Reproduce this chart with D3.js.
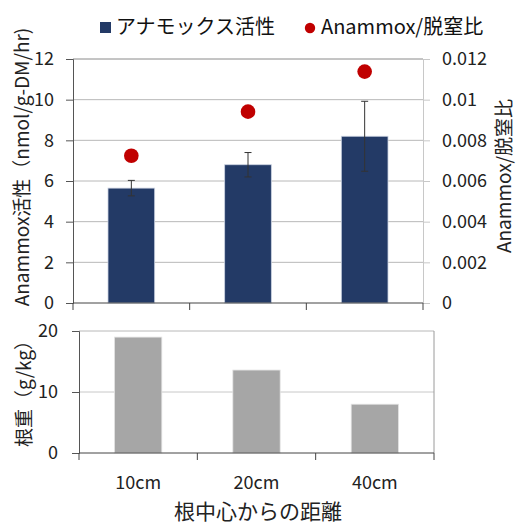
<!DOCTYPE html>
<html>
<head>
<meta charset="utf-8">
<script src="https://cdn.jsdelivr.net/npm/d3@7"></script>
<style>
  html, body { margin: 0; padding: 0; background: #fff; }
  svg { display: block; font-family: "Noto Sans CJK JP", "Noto Sans", sans-serif; }
</style>
</head>
<body>
<svg id="chart" width="521" height="524"></svg>
<script>
// Distance from the root centre
const categories = ["10cm", "20cm", "40cm"];
// Anammox activity (nmol/g-DM/hr) with standard error
const activity = [5.65, 6.8, 8.2];
const activityErr = [0.38, 0.6, 1.72];
// Anammox / denitrification ratio
const ratio = [0.00724, 0.00941, 0.01138];
// Root weight (g/kg)
const rootWeight = [19.0, 13.6, 8.0];

const leftTicks = [0, 2, 4, 6, 8, 10, 12];
const rightTicks = [0, 0.002, 0.004, 0.006, 0.008, 0.01, 0.012];
const bottomTicks = [0, 10, 20];

const svg = d3.select("#chart");
const navy = "#233a66";
const red = "#c00000";
const gray = "#a6a6a6";
const ink = "#222";
const tickFont = 18;

// ---------- upper panel ----------
const upper = { left: 73, right: 423, top: 59, bottom: 303 };
const x1 = d3.scaleBand().domain(categories).range([upper.left, upper.right]).paddingInner(0.6).paddingOuter(0.3);
const xStep1 = d3.scaleBand().domain(categories).range([upper.left, upper.right]);
const yL = d3.scaleLinear().domain([0, 12]).range([upper.bottom, upper.top]);
const yR = d3.scaleLinear().domain([0, 0.012]).range([upper.bottom, upper.top]);

// gridlines
svg.append("g").selectAll("line").data(leftTicks.filter(d => d > 0)).join("line")
  .attr("x1", upper.left).attr("x2", upper.right)
  .attr("y1", d => yL(d)).attr("y2", d => yL(d))
  .attr("stroke", d => d === 12 ? "#8a8a8a" : "#b8b8b8").attr("stroke-width", 1);

// right axis (light)
const rightAxis = svg.append("g").attr("transform", `translate(${upper.right},0)`)
  .call(d3.axisRight(yR).tickValues(rightTicks).tickSize(7).tickPadding(12)
    .tickFormat(d => d === 0 ? "0" : String(+d.toFixed(3))));
rightAxis.select(".domain").attr("stroke", "#c8c8c8");
rightAxis.selectAll(".tick line").attr("stroke", "#c8c8c8");
rightAxis.selectAll("text").attr("font-size", tickFont).attr("fill", ink)
  .attr("font-family", "'Noto Sans CJK JP', sans-serif");

// bars
svg.append("g").selectAll("rect").data(categories).join("rect")
  .attr("x", d => x1(d)).attr("width", x1.bandwidth())
  .attr("y", (d, i) => yL(activity[i])).attr("height", (d, i) => yL(0) - yL(activity[i]))
  .attr("fill", navy).attr("stroke", "#c9d1e0").attr("stroke-width", 0.8);

// error bars
const eb = svg.append("g").selectAll("g").data(categories).join("g")
  .attr("stroke", "#333").attr("stroke-width", 1);
eb.append("line")
  .attr("x1", d => x1(d) + x1.bandwidth() / 2).attr("x2", d => x1(d) + x1.bandwidth() / 2)
  .attr("y1", (d, i) => yL(activity[i] - activityErr[i])).attr("y2", (d, i) => yL(activity[i] + activityErr[i]));
[-1, 1].forEach(s => {
  eb.append("line")
    .attr("x1", d => x1(d) + x1.bandwidth() / 2 - 3.5).attr("x2", d => x1(d) + x1.bandwidth() / 2 + 3.5)
    .attr("y1", (d, i) => yL(activity[i] + s * activityErr[i])).attr("y2", (d, i) => yL(activity[i] + s * activityErr[i]));
});

// ratio markers
svg.append("g").selectAll("circle").data(categories).join("circle")
  .attr("cx", d => x1(d) + x1.bandwidth() / 2)
  .attr("cy", (d, i) => yR(ratio[i])).attr("r", 7.3).attr("fill", red);

// left axis
const leftAxis = svg.append("g").attr("transform", `translate(${upper.left},0)`)
  .call(d3.axisLeft(yL).tickValues(leftTicks).tickSize(7).tickPadding(12));
leftAxis.select(".domain").attr("stroke", "#555");
leftAxis.selectAll(".tick line").attr("stroke", "#555");
leftAxis.selectAll("text").attr("font-size", tickFont).attr("fill", ink)
  .attr("font-family", "'Noto Sans CJK JP', sans-serif");

// category axis of upper panel (ticks only at band boundaries)
const upperX = svg.append("g");
upperX.append("line").attr("x1", upper.left).attr("x2", upper.right)
  .attr("y1", upper.bottom).attr("y2", upper.bottom).attr("stroke", "#444");
upperX.selectAll("line.tk").data([...categories.map(c => xStep1(c)), upper.right]).join("line").attr("class", "tk")
  .attr("x1", d => d).attr("x2", d => d).attr("y1", upper.bottom).attr("y2", upper.bottom + 7)
  .attr("stroke", "#444");

// axis titles
svg.append("text")
  .attr("transform", `translate(29,167) rotate(-90)`)
  .attr("text-anchor", "middle").attr("font-size", 19).attr("fill", ink)
  .text("Anammox活性（nmol/g-DM/hr)");
svg.append("text")
  .attr("transform", `translate(511,176) rotate(-90)`)
  .attr("text-anchor", "middle").attr("font-size", 19).attr("fill", ink)
  .text("Anammox/脱窒比");

// legend
const lg = svg.append("g").attr("font-size", 20).attr("fill", "#111");
lg.append("rect").attr("x", 100).attr("y", 22).attr("width", 11).attr("height", 11).attr("fill", navy);
lg.append("text").attr("x", 116).attr("y", 34).text("アナモックス活性");
lg.append("circle").attr("cx", 310).attr("cy", 28).attr("r", 5.2).attr("fill", red);
lg.append("text").attr("x", 321).attr("y", 34).text("Anammox/脱窒比");

// ---------- lower panel ----------
const lower = { left: 79, right: 434, top: 331, bottom: 453 };
const x2 = d3.scaleBand().domain(categories).range([lower.left, lower.right]).paddingInner(0.6).paddingOuter(0.3);
const xStep2 = d3.scaleBand().domain(categories).range([lower.left, lower.right]);
const y2 = d3.scaleLinear().domain([0, 20]).range([lower.bottom, lower.top]);

svg.append("line").attr("x1", lower.left).attr("x2", lower.right)
  .attr("y1", y2(10)).attr("y2", y2(10)).attr("stroke", "#c8c8c8");
svg.append("line").attr("x1", lower.left).attr("x2", lower.right)
  .attr("y1", lower.top).attr("y2", lower.top).attr("stroke", "#b8b8b8");
svg.append("line").attr("x1", lower.right).attr("x2", lower.right)
  .attr("y1", lower.top).attr("y2", lower.bottom).attr("stroke", "#9a9a9a");

svg.append("g").selectAll("rect").data(categories).join("rect")
  .attr("x", d => x2(d)).attr("width", x2.bandwidth())
  .attr("y", (d, i) => y2(rootWeight[i])).attr("height", (d, i) => y2(0) - y2(rootWeight[i]))
  .attr("fill", gray).attr("stroke", "#e4e4e4").attr("stroke-width", 0.8);

const left2 = svg.append("g").attr("transform", `translate(${lower.left},0)`)
  .call(d3.axisLeft(y2).tickValues(bottomTicks).tickSize(7).tickPadding(14));
left2.select(".domain").attr("stroke", "#555");
left2.selectAll(".tick line").attr("stroke", "#555");
left2.selectAll("text").attr("font-size", tickFont).attr("fill", ink)
  .attr("font-family", "'Noto Sans CJK JP', sans-serif");

const lowerX = svg.append("g");
lowerX.append("line").attr("x1", lower.left).attr("x2", lower.right)
  .attr("y1", lower.bottom).attr("y2", lower.bottom).attr("stroke", "#444");
lowerX.selectAll("line.tk").data([...categories.map(c => xStep2(c)), lower.right]).join("line").attr("class", "tk")
  .attr("x1", d => d).attr("x2", d => d).attr("y1", lower.bottom).attr("y2", lower.bottom + 7)
  .attr("stroke", "#444");
lowerX.selectAll("text").data(categories).join("text")
  .attr("x", d => x2(d) + x2.bandwidth() / 2).attr("y", 489)
  .attr("text-anchor", "middle").attr("font-size", 18).attr("fill", ink)
  .text(d => d);

svg.append("text")
  .attr("transform", `translate(31,389) rotate(-90)`)
  .attr("text-anchor", "middle").attr("font-size", 19).attr("fill", ink)
  .text("根重（g/kg）");

svg.append("text").attr("x", 258).attr("y", 519)
  .attr("text-anchor", "middle").attr("font-size", 21).attr("fill", ink)
  .text("根中心からの距離");
</script>
</body>
</html>
